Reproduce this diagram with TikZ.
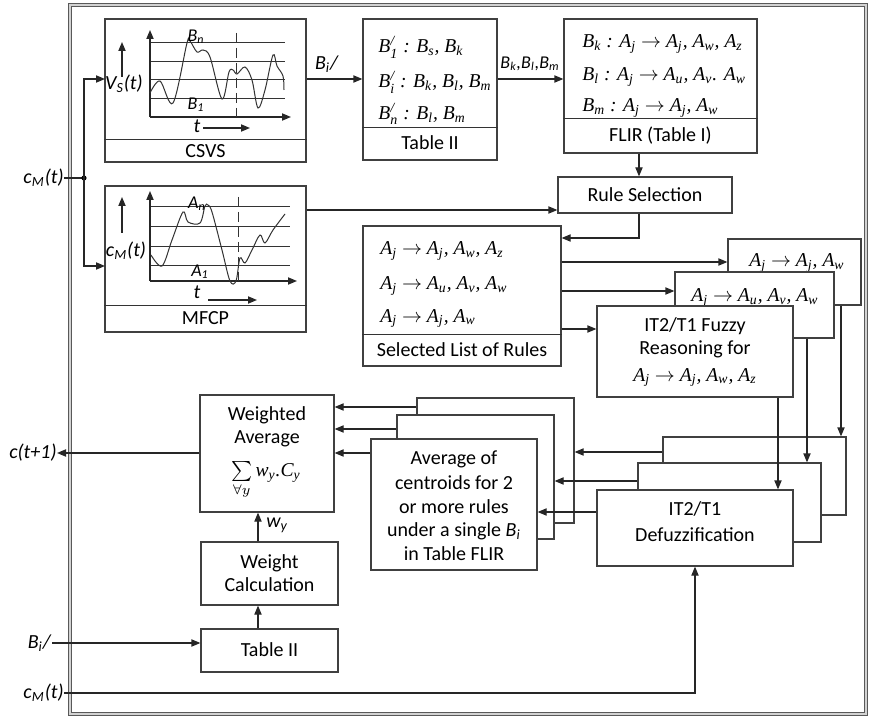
\documentclass[tikz,border=0pt]{standalone}
\usepackage[no-math]{fontspec}
\setmainfont{Carlito}
\newfontfamily\tms{Liberation Serif}
\usetikzlibrary{arrows.meta,fit}

\tikzset{
  arr/.style={-{Triangle[length=4.5pt,width=3.6pt]}},
  wire/.style={line width=0.6pt, draw=black!85},
  box/.style={draw=black!75, line width=0.6pt, fill=white, inner sep=0pt},
  lbl/.style={inner sep=0pt, font=\fontsize{10}{12}\selectfont},
  slbl/.style={inner sep=0pt, font=\fontsize{9}{11}\selectfont},
  mth/.style={inner sep=0pt, anchor=base west, font=\tms\itshape\fontsize{9.8}{12}\selectfont},
  gline/.style={line width=0.5pt, draw=black!80},
  curve/.style={line width=0.5pt, draw=black!80, smooth, tension=0.55},
}
% a rectangular block given by two corners
\newcommand\blockbox[5]{\node[box, fit={(#2,#3) (#4,#5)}] (#1) {};}
\newcommand\itl[1]{\textit{#1}}
% serif variable with a subscript, and with a stroke above the subscript
\newcommand\vr[2]{#1\textsubscript{#2}}
\newcommand\vsp[2]{#1${}^{\mbox{\scriptsize\itshape /}}_{\mbox{\scriptsize\itshape #2}}$}
\newcommand\imp{ $\to$ }

\begin{document}
\begin{tikzpicture}[x=0.5pt,y=-0.5pt]
\useasboundingbox (0,0) rectangle (869,717);

% outer frame
\draw[draw=gray!70!black, double=gray!35, double distance=0.7pt, line width=0.45pt] (70,5) rectangle (866,714);

% ---------- CSVS ----------
\blockbox{csvs}{105}{19}{306}{162}
\draw[gline] (csvs.west |- 0,140) -- (csvs.east |- 0,140);
\node[lbl] (csvsl) at (205.5,151) {CSVS};
\foreach \yy in {43,62,80,99} \draw[gline] (150,\yy) -- (285,\yy);
\draw[wire,arr] (150,117) -- (291,117);
\draw[wire,arr] (150,117) -- (150,30);
\draw[gline, dashed, dash pattern=on 5pt off 2.5pt] (236,33) -- (236,117);
\draw[curve] plot coordinates {(150,93) (160,81) (173,103) (187,43) (190,41) (197,52) (203,50) (210,57) (222,99) (229,72) (233,70) (237,74) (245,67) (252,80) (258,108) (265,90) (273,55) (277,66) (283,76) (284,90)};
\node[slbl] (bnl) at (196,37) {\itl{B\textsubscript{n}}};
\node[slbl] (b1l) at (196,105) {\itl{B\textsubscript{1}}};
\node[lbl] (vsl) at (124,84) {\itl{V\textsubscript{S}(t)}};
\draw[wire,arr] (122,77) -- (122,42);
\node[lbl] (t1l) at (197,126) {\itl{t}};
\draw[wire,arr] (203,128) -- (250,128);

% ---------- MFCP ----------
\blockbox{mfcp}{105}{186}{306}{332}
\draw[gline] (mfcp.west |- 0,306) -- (mfcp.east |- 0,306);
\node[lbl] (mfcpl) at (205.5,318) {MFCP};
\foreach \yy in {207,227,247,266} \draw[gline] (150,\yy) -- (290,\yy);
\draw[wire,arr] (150,281) -- (297,281);
\draw[wire,arr] (150,281) -- (150,191);
\draw[gline, dashed, dash pattern=on 5pt off 2.5pt] (238,197) -- (238,281);
\draw[curve] plot coordinates {(151,255) (162,266) (172,240) (183,212) (188,222) (200,223) (205,206) (208,205) (212,212) (222,250) (230,281) (236,281) (240,258) (245,263) (252,250) (260,235) (265,243) (273,230) (285,214)};
\node[slbl] (anl) at (197,204) {\itl{A\textsubscript{n}}};
\node[slbl] (a1l) at (200,272) {\itl{A\textsubscript{1}}};
\node[lbl] (cmgl) at (126,251) {\itl{c\textsubscript{M}(t)}};
\draw[wire,arr] (122,233) -- (122,197);
\node[lbl] (t2l) at (197,292) {\itl{t}};
\draw[wire,arr] (208,300) -- (257,300);

% ---------- Table II (top) ----------
\blockbox{tabA}{363}{19}{497}{160}
\draw[gline] (tabA.west |- 0,128) -- (tabA.east |- 0,128);
\node[lbl] (tabAl) at (430,143) {Table II};
\node[mth] (ta1) at (378,53) {\vsp{B}{1} : \vr{B}{s}, \vr{B}{k}};
\node[mth] (ta2) at (378,88) {\vsp{B}{i} : \vr{B}{k}, \vr{B}{l}, \vr{B}{m}};
\node[mth] (ta3) at (378,120) {\vsp{B}{n} : \vr{B}{l}, \vr{B}{m}};

% ---------- FLIR ----------
\blockbox{flir}{564}{19}{757}{153}
\draw[gline] (flir.west |- 0,119) -- (flir.east |- 0,119);
\node[lbl] (flirl) at (660.5,136) {FLIR (Table I)};
\node[mth] (fl1) at (582,48) {\vr{B}{k} : \vr{A}{j}\imp\vr{A}{j}, \vr{A}{w}, \vr{A}{z}};
\node[mth] (fl2) at (582,81) {\vr{B}{l} : \vr{A}{j}\imp\vr{A}{u}, \vr{A}{v}. \vr{A}{w}};
\node[mth] (fl3) at (582,112) {\vr{B}{m} : \vr{A}{j}\imp\vr{A}{j}, \vr{A}{w}};

% ---------- Rule selection ----------
\blockbox{rsel}{558}{177}{732}{213}
\node[lbl] (rsell) at (645,195) {Rule Selection};

% ---------- Selected list ----------
\blockbox{sel}{363}{226}{561}{366}
\draw[gline] (sel.west |- 0,335) -- (sel.east |- 0,335);
\node[lbl] (sell) at (462,350) {Selected List of Rules};
\node[mth] (se1) at (380,255) {\vr{A}{j}\imp\vr{A}{j}, \vr{A}{w}, \vr{A}{z}};
\node[mth] (se2) at (380,290) {\vr{A}{j}\imp\vr{A}{u}, \vr{A}{v}, \vr{A}{w}};
\node[mth] (se3) at (380,322) {\vr{A}{j}\imp\vr{A}{j}, \vr{A}{w}};

% ---------- reasoning stack ----------
\blockbox{rC}{728}{239}{861}{305}
\node[mth, anchor=base] (rCt) at (797,267) {\vr{A}{j}\imp\vr{A}{j}, \vr{A}{w}};
\blockbox{rB}{675}{272}{834}{338}
\node[mth, anchor=base] (rBt) at (755,302) {\vr{A}{j}\imp\vr{A}{u}, \vr{A}{v}, \vr{A}{w}};
\blockbox{rA}{597}{306}{793}{397}
\node[lbl] (rAt1) at (695,326) {IT2/T1 Fuzzy};
\node[lbl] (rAt2) at (695,349) {Reasoning for};
\node[mth, anchor=base] (rAt3) at (695,381) {\vr{A}{j}\imp\vr{A}{j}, \vr{A}{w}, \vr{A}{z}};

% ---------- defuzzification stack ----------
\blockbox{dC}{663}{437}{846}{515}
\blockbox{dB}{638}{463}{821}{542}
\blockbox{dA}{597}{490}{793}{566}
\node[lbl] (dAt1) at (695,509) {IT2/T1};
\node[lbl] (dAt2) at (695,535) {Defuzzification};

% ---------- centroid averaging stack ----------
\blockbox{aC}{417}{398}{574}{523}
\blockbox{aB}{397}{415}{554}{539}
\blockbox{aA}{371}{439}{537}{570}
\node[lbl] (aAt1) at (454,459) {Average of};
\node[lbl] (aAt2) at (454,483) {centroids for 2};
\node[lbl] (aAt3) at (454,507) {or more rules};
\node[lbl] (aAt4) at (454,531) {under a single \itl{B\textsubscript{i}}};
\node[lbl] (aAt5) at (454,554) {in Table FLIR};

% ---------- weighted average ----------
\blockbox{wavg}{200}{395}{334}{512}
\node[lbl] (wt1) at (267,415) {Weighted};
\node[lbl] (wt2) at (267,439) {Average};
\node[mth, anchor=north] (wt3) at (266,461) {$\mathop{\textstyle\sum}\limits_{\forall y}$\,\vr{w}{y}.\vr{C}{y}};

% ---------- weight calculation and lower Table II ----------
\blockbox{wcal}{201}{542}{338}{605}
\node[lbl] (wc1) at (269.5,563) {Weight};
\node[lbl] (wc2) at (269.5,585) {Calculation};
\blockbox{tabB}{201}{629}{338}{672}
\node[lbl] (tabBl) at (269.5,650) {Table II};

% ---------- external labels ----------
\node[lbl, anchor=east] (cmA) at (64,178) {\itl{c\textsubscript{M}(t)}};
\node[lbl, anchor=east] (outl) at (57,453) {\itl{c(t+1)}};
\node[lbl, anchor=east] (bil) at (52,643) {\itl{B\textsubscript{i}/}};
\node[lbl, anchor=east] (cmB) at (64,693) {\itl{c\textsubscript{M}(t)}};
\node[lbl] (bitop) at (327,64) {\itl{B\textsubscript{i}/}};
\node[slbl] (bklm) at (530,64) {\itl{B\textsubscript{k},B\textsubscript{l},B\textsubscript{m}}};
\node[lbl, anchor=west] (wyl) at (266,525) {\itl{w\textsubscript{y}}};

% ---------- waypoints ----------
\coordinate (jn) at (84,178);
\coordinate (y79) at (0,79);
\coordinate (cIn) at (105,79);
\coordinate (mIn) at (105,266);
\coordinate (y210) at (0,210);
\coordinate (x639) at (639,0);
\coordinate (y238) at (0,238);
\coordinate (y262) at (0,262);
\coordinate (y291) at (0,291);
\coordinate (y329) at (0,329);
\coordinate (x778) at (778,0);
\coordinate (x807) at (807,0);
\coordinate (x841) at (841,0);
\coordinate (y452) at (0,452);
\coordinate (y481) at (0,481);
\coordinate (y512) at (0,512);
\coordinate (y407) at (0,407);
\coordinate (y429) at (0,429);
\coordinate (y453) at (0,453);
\coordinate (x258) at (258,0);
\coordinate (y643) at (0,643);

% ---------- connectors ----------
\begin{scope}[wire]
\draw (cmA.east) -- (jn);
\fill[black] (jn) circle (2.6);
\draw[arr] (jn) |- (cIn);
\draw[arr] (jn) |- (mIn);
\draw[arr] (csvs.east |- y79) -- (tabA.west |- y79);
\draw[arr] (tabA.east |- y79) -- (flir.west |- y79);
\draw[arr] (flir.south -| x639) -- (rsel.north -| x639);
\draw[arr] (mfcp.east |- y210) -- (rsel.west |- y210);
\draw[arr] (rsel.south -| x639) |- (sel.east |- y238);
\draw[arr] (sel.east |- y262) -- (rC.west |- y262);
\draw[arr] (sel.east |- y291) -- (rB.west |- y291);
\draw[arr] (sel.east |- y329) -- (rA.west |- y329);
\draw[arr] (rA.south -| x778) -- (dA.north -| x778);
\draw[arr] (rB.south -| x807) -- (dB.north -| x807);
\draw[arr] (rC.south -| x841) -- (dC.north -| x841);
\draw[arr] (dC.west |- y452) -- (aC.east |- y452);
\draw[arr] (dB.west |- y481) -- (aB.east |- y481);
\draw[arr] (dA.west |- y512) -- (aA.east |- y512);
\draw[arr] (aC.west |- y407) -- (wavg.east |- y407);
\draw[arr] (aB.west |- y429) -- (wavg.east |- y429);
\draw[arr] (aA.west |- y453) -- (wavg.east |- y453);
\draw[arr] (wavg.west |- y453) -- (outl.east);
\draw[arr] (wcal.north -| x258) -- (wavg.south -| x258);
\draw[arr] (tabB.north -| x258) -- (wcal.south -| x258);
\draw[arr] (bil.east |- y643) -- (tabB.west |- y643);
\draw[arr] (cmB.east) -| (dA.south);
\end{scope}
\end{tikzpicture}
\end{document}
